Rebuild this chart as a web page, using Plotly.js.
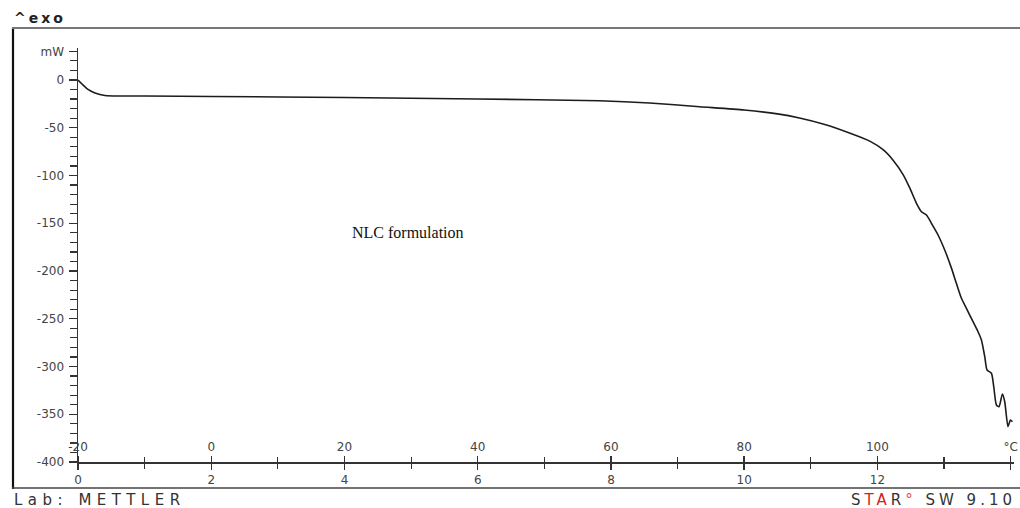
<!DOCTYPE html>
<html><head><meta charset="utf-8">
<script src="https://cdn.plot.ly/plotly-3.0.1.min.js"></script>
<style>html,body{margin:0;padding:0;background:#fff;} #chart{width:1020px;height:508px;}</style>
</head><body><div id="chart"></div>
<script>
// DSC curve: time (min) vs heat flow (mW)
const time_min = [0, 0.06, 0.15, 0.255, 0.405, 0.63, 1.0, 2.0, 4.0, 6.0, 7.83, 8.58, 9.33, 10.0, 10.5, 10.83, 11.21, 11.58,
  11.885, 12.085, 12.235, 12.385, 12.485, 12.586, 12.661, 12.736, 12.811, 12.910, 13.010, 13.111, 13.185,
  13.261, 13.336, 13.435, 13.510, 13.561, 13.611, 13.645, 13.711, 13.746, 13.786, 13.825, 13.876, 13.911,
  13.960, 13.996, 14.026];
const heatflow_mW = [0, -4.2, -9.9, -13.6, -16.2, -16.8, -16.8, -17.3, -18.3, -19.9, -21.7, -24.1, -28.0, -31.4, -35.5, -39.8, -46.6, -55.5,
  -64.0, -73.0, -84.0, -99.0, -113.0, -129.1, -137.9, -141.4, -150.1, -162.3, -178.0, -197.0, -212.9,
  -228.6, -239.1, -253.1, -263.6, -272.3, -289.7, -303.7, -307.1, -321.2, -340.3, -342.1, -328.8, -336.9,
  -363.0, -356.0, -357.8];

const yTickVals = [30, 0, -50, -100, -150, -200, -250, -300, -350, -400];
const yTickText = ['mW', '0', '-50', '-100', '-150', '-200', '-250', '-300', '-350', '-400'];
const minTickVals = [0, 2, 4, 6, 8, 10, 12, 14];
const minTickText = ['0', '2', '4', '6', '8', '10', '12', 'min'];
const tempTickVals = [-20, 0, 20, 40, 60, 80, 100, 120];
const tempTickText = ['-20', '0', '20', '40', '60', '80', '100', '°C'];
const sampleLabel = 'NLC formulation';

// geometry (pixels)
const W = 1020, H = 508;
const M = {l: 78, r: 6, t: 48, b: 46};
const PW = W - M.l - M.r, PH = H - M.t - M.b;
const px2x = p => (p - M.l) / PW;
const py2y = p => (H - M.b - p) / PH;

const axisCol = '#333';
const tickFont = {family: 'DejaVu Sans, Verdana, sans-serif', size: 12, color: '#444'};

const trace = {
  x: time_min, y: heatflow_mW, type: 'scatter', mode: 'lines',
  line: {color: '#1c1c1c', width: 1.6, shape: 'spline', smoothing: 0.6}, hoverinfo: 'skip', showlegend: false
};
// dummy trace to activate the temperature axis
const tempTrace = {x: [tempTickVals[0]], y: [null], xaxis: 'x2', yaxis: 'y', type: 'scatter', mode: 'lines', showlegend: false, hoverinfo: 'skip'};

const layout = {
  width: W, height: H,
  margin: M,
  paper_bgcolor: '#fff', plot_bgcolor: '#fff',
  showlegend: false,
  xaxis: {
    range: [0, 14.05], showgrid: false, zeroline: false,
    showline: true, linecolor: axisCol, linewidth: 1.5,
    tickmode: 'array', tickvals: minTickVals, ticktext: minTickText,
    ticks: 'outside', ticklen: 6, tickwidth: 1.4, tickcolor: axisCol,
    minor: {tickmode: 'linear', tick0: 0, dtick: 1, ticks: 'outside', ticklen: 5, tickwidth: 1.2, tickcolor: axisCol},
    tickfont: tickFont, ticklabelstandoff: 0
  },
  xaxis2: {
    overlaying: 'x', anchor: 'free', position: 0, side: 'top',
    range: [-20, -20 + 10 * 14.05], showgrid: false, zeroline: false, showline: false,
    tickmode: 'array', tickvals: tempTickVals, ticktext: tempTickText,
    ticks: 'outside', ticklen: 6, tickwidth: 1.4, tickcolor: axisCol,
    minor: {tickmode: 'linear', tick0: 0, dtick: 10, ticks: 'outside', ticklen: 5, tickwidth: 1.2, tickcolor: axisCol},
    tickfont: tickFont, ticklabelstandoff: 0
  },
  yaxis: {
    range: [-400, 33.5], showgrid: false, zeroline: false,
    showline: true, linecolor: axisCol, linewidth: 1.5,
    tickmode: 'array', tickvals: yTickVals, ticktext: yTickText,
    ticks: 'outside', ticklen: 8, tickwidth: 1.3, tickcolor: axisCol,
    minor: {tickmode: 'linear', tick0: 0, dtick: 10, ticks: 'outside', ticklen: 7, tickwidth: 1.2, tickcolor: axisCol},
    tickfont: tickFont, ticklabelstandoff: 2
  },
  shapes: [
    {type: 'line', xref: 'paper', yref: 'paper', x0: px2x(13), x1: px2x(13), y0: py2y(28), y1: py2y(489), line: {color: '#111', width: 2.2}},
    {type: 'line', xref: 'paper', yref: 'paper', x0: px2x(12), x1: px2x(1030), y0: py2y(28), y1: py2y(28), line: {color: '#777', width: 2}},
    {type: 'line', xref: 'paper', yref: 'paper', x0: px2x(12), x1: px2x(1030), y0: py2y(488), y1: py2y(488), line: {color: '#444', width: 1.6}}
  ],
  annotations: [
    {xref: 'paper', yref: 'paper', x: px2x(12), y: py2y(18), xanchor: 'left', yanchor: 'middle', showarrow: false,
     text: '<span style="letter-spacing:3px">^exo</span>', font: {family: 'DejaVu Sans, Verdana, sans-serif', size: 14, color: '#222', weight: 'bold'}},
    {xref: 'paper', yref: 'paper', x: px2x(12), y: py2y(500), xanchor: 'left', yanchor: 'middle', showarrow: false,
     text: '<span style="letter-spacing:5.5px">Lab: METTLER</span>', font: {family: 'DejaVu Sans, Verdana, sans-serif', size: 15, color: '#333'}},
    {xref: 'paper', yref: 'paper', x: px2x(1018), y: py2y(500), xanchor: 'right', yanchor: 'middle', showarrow: false,
     text: '<span style="letter-spacing:4px">S<span style="color:#d62020">TA</span>R<span style="color:#e05050">°</span> SW 9.10</span>', font: {family: 'DejaVu Sans, Verdana, sans-serif', size: 15, color: '#333'}},
    {xref: 'x', yref: 'y', x: 4.95, y: -160, xanchor: 'center', yanchor: 'middle', showarrow: false,
     text: sampleLabel, font: {family: 'Liberation Serif, Times New Roman, serif', size: 16, color: '#111'}}
  ]
};

Plotly.newPlot('chart', [trace, tempTrace], layout, {staticPlot: true, displayModeBar: false});
</script>
</body></html>
